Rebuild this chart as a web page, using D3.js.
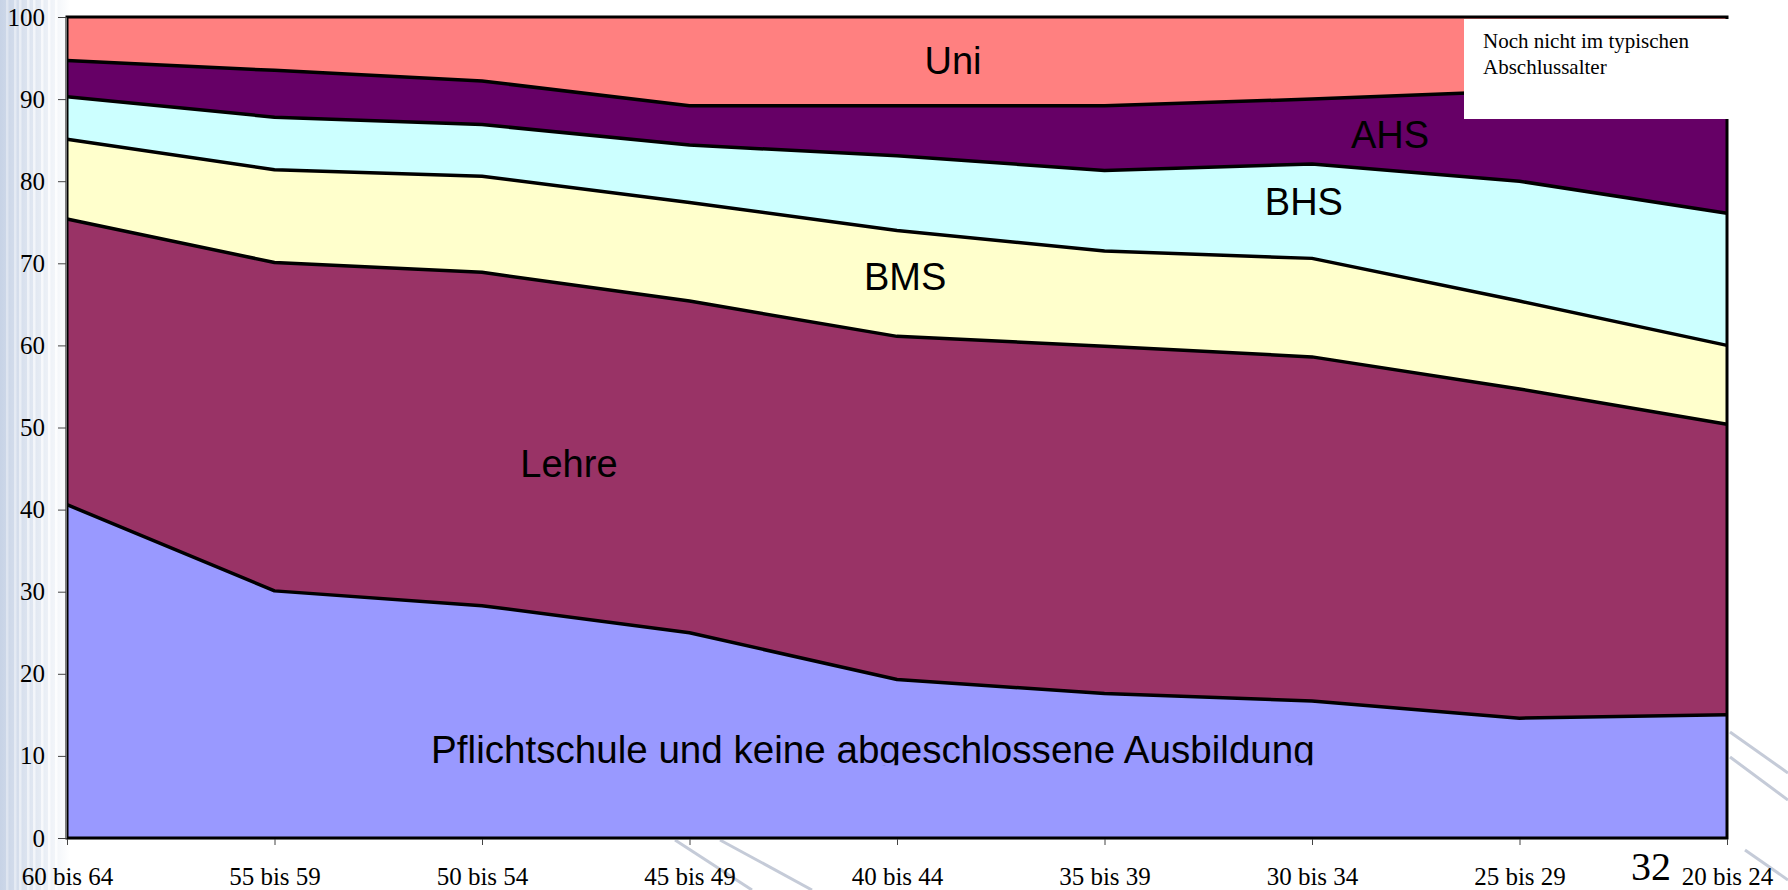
<!DOCTYPE html>
<html>
<head>
<meta charset="utf-8">
<script src="https://cdn.jsdelivr.net/npm/d3@7"></script>
<style>
  body { margin: 0; background: #fff; }
  svg { display: block; }
</style>
</head>
<body>
<div id="chart"></div>
<script>
const width = 1788
const height = 890
const margin = { left: 67, right: 61, top: 17, bottom: 52 }

// age groups, oldest first
const ageGroups = ['60 bis 64', '55 bis 59', '50 bis 54', '45 bis 49', '40 bis 44',
  '35 bis 39', '30 bis 34', '25 bis 29', '20 bis 24']

// share of each education level in percent, bottom layer first
const layerNames = ['Pflichtschule', 'Lehre', 'BMS', 'BHS', 'AHS', 'Uni']
const pflichtschule = [40.6, 30.1, 28.3, 25.0, 19.3, 17.6, 16.7, 14.6, 15.0]
const lehre = [34.8, 40.0, 40.6, 40.4, 41.8, 42.3, 41.9, 40.1, 35.4]
const bms = [9.7, 11.3, 11.7, 12.0, 12.9, 11.6, 12.0, 10.7, 9.6]
const bhs = [5.2, 6.4, 6.3, 7.0, 9.1, 9.8, 11.5, 14.6, 16.1]
const ahs = [4.4, 5.7, 5.3, 4.8, 6.1, 7.9, 7.9, 11.0, 15.9]
const uni = [5.3, 6.5, 7.8, 10.8, 10.8, 10.8, 10.0, 9.0, 8.0]

const yTicks = [0, 10, 20, 30, 40, 50, 60, 70, 80, 90, 100]
const colors = ['#9999ff', '#993366', '#ffffcc', '#ccffff', '#660066', '#ff8080']

// layer captions: position as (category index, value)
const captions = [
  { text: 'Pflichtschule und keine abgeschlossene Ausbildung', i: 3.884, v: 9.1, clip: true },
  { text: 'Lehre', i: 2.419, v: 44.0 },
  { text: 'BMS', i: 4.039, v: 66.7 },
  { text: 'BHS', i: 5.961, v: 75.9 },
  { text: 'AHS', i: 6.376, v: 84.0 },
  { text: 'Uni', i: 4.27, v: 93.1 }
]
const noteLines = ['Noch nicht im typischen', 'Abschlussalter']
const slideNumber = '32'

const table = ageGroups.map((g, k) => ({
  group: g,
  Pflichtschule: pflichtschule[k], Lehre: lehre[k], BMS: bms[k],
  BHS: bhs[k], AHS: ahs[k], Uni: uni[k]
}))

const svg = d3.select('#chart').append('svg')
  .attr('width', width)
  .attr('height', height)

// slide background
const defs = svg.append('defs')
const grad = defs.append('linearGradient').attr('id', 'leftFade')
grad.append('stop').attr('offset', '0%').attr('stop-color', '#c7d3e6')
grad.append('stop').attr('offset', '55%').attr('stop-color', '#e4eaf3')
grad.append('stop').attr('offset', '100%').attr('stop-color', '#ffffff')
svg.append('rect').attr('width', width).attr('height', height).attr('fill', '#fff')
svg.append('rect').attr('width', 70).attr('height', height).attr('fill', 'url(#leftFade)')
const streaks = [6, 14, 19, 27, 33, 41, 48, 55]
svg.append('g').selectAll('rect').data(streaks).join('rect')
  .attr('x', d => d).attr('y', 0).attr('width', 2.5).attr('height', height)
  .attr('fill', '#ffffff').attr('opacity', (d, k) => 0.35 + 0.06 * k)
const swoosh = [[675, 840, 752, 890], [720, 840, 812, 890], [1730, 732, 1788, 773],
  [1730, 757, 1788, 800], [1745, 850, 1788, 880]]
svg.append('g').selectAll('line').data(swoosh).join('line')
  .attr('x1', d => d[0]).attr('y1', d => d[1]).attr('x2', d => d[2]).attr('y2', d => d[3])
  .attr('stroke', '#c5cbd8').attr('stroke-width', 3)

const x = d3.scalePoint().domain(ageGroups).range([margin.left, width - margin.right])
const xi = d3.scaleLinear().domain([0, ageGroups.length - 1]).range([margin.left, width - margin.right])
const y = d3.scaleLinear().domain([0, 100]).range([height - margin.bottom, margin.top])

const series = d3.stack().keys(layerNames)(table)

const area = d3.area()
  .x(d => x(d.data.group))
  .y0(d => y(d[0]))
  .y1(d => y(d[1]))
const topLine = d3.line()
  .x(d => x(d.data.group))
  .y(d => y(d[1]))

const plot = svg.append('g')
plot.selectAll('path.layer').data(series).join('path')
  .attr('class', 'layer')
  .attr('fill', (d, k) => colors[k])
  .attr('d', area)
plot.selectAll('path.edge').data(series.slice(0, -1)).join('path')
  .attr('class', 'edge')
  .attr('fill', 'none')
  .attr('stroke', '#000')
  .attr('stroke-width', 3.5)
  .attr('stroke-linejoin', 'round')
  .attr('d', topLine)

// captions (the long one is clipped just under its baseline, as in the original)
defs.append('clipPath').attr('id', 'capClip').append('rect')
  .attr('x', 0).attr('y', 0).attr('width', width).attr('height', y(9.1) + 2)
plot.selectAll('text.cap').data(captions).join('text')
  .attr('class', 'cap')
  .attr('x', d => xi(d.i))
  .attr('y', d => y(d.v))
  .attr('text-anchor', 'middle')
  .attr('clip-path', d => d.clip ? 'url(#capClip)' : null)
  .style('font-family', '"Liberation Sans", Arial, sans-serif')
  .style('font-size', d => d.clip ? '38.6px' : '38px')
  .attr('fill', '#000')
  .text(d => d.text)

// plot frame
svg.append('rect')
  .attr('x', margin.left).attr('y', margin.top)
  .attr('width', width - margin.left - margin.right)
  .attr('height', y(0) - margin.top)
  .attr('fill', 'none').attr('stroke', '#000').attr('stroke-width', 3)

// axes
const yAxis = svg.append('g')
  .attr('transform', 'translate(' + (margin.left - 1) + ',0)')
  .call(d3.axisLeft(y).tickValues(yTicks).tickSize(8).tickPadding(13).tickSizeOuter(0))
yAxis.select('.domain').attr('stroke', '#777').attr('stroke-width', 1)
yAxis.selectAll('.tick line').attr('stroke', '#444')
yAxis.selectAll('text')
  .style('font-family', '"Liberation Serif", "Times New Roman", serif')
  .style('font-size', '25px').attr('fill', '#000')

const xAxis = svg.append('g')
  .attr('transform', 'translate(0,' + (y(0) + 1) + ')')
  .call(d3.axisBottom(x).tickSize(6).tickSizeOuter(0))
xAxis.select('.domain').attr('stroke', '#777').attr('stroke-width', 1)
xAxis.selectAll('.tick line').attr('stroke', '#444')
xAxis.selectAll('text')
  .attr('dy', null).attr('y', 46)
  .style('font-family', '"Liberation Serif", "Times New Roman", serif')
  .style('font-size', '25px').attr('fill', '#000')

// note box covering the upper right corner
const note = svg.append('g')
note.append('rect').attr('x', 1464).attr('y', 19).attr('width', 330).attr('height', 100).attr('fill', '#fff')
note.selectAll('text').data(noteLines).join('text')
  .attr('x', 1483).attr('y', (d, k) => 48 + k * 26)
  .style('font-family', '"Liberation Serif", "Times New Roman", serif')
  .style('font-size', '21px').attr('fill', '#000')
  .text(d => d)

svg.append('text')
  .attr('x', 1651).attr('y', 880).attr('text-anchor', 'middle')
  .style('font-family', '"Liberation Serif", "Times New Roman", serif')
  .style('font-size', '40px').attr('fill', '#000')
  .text(slideNumber)
</script>
</body>
</html>
